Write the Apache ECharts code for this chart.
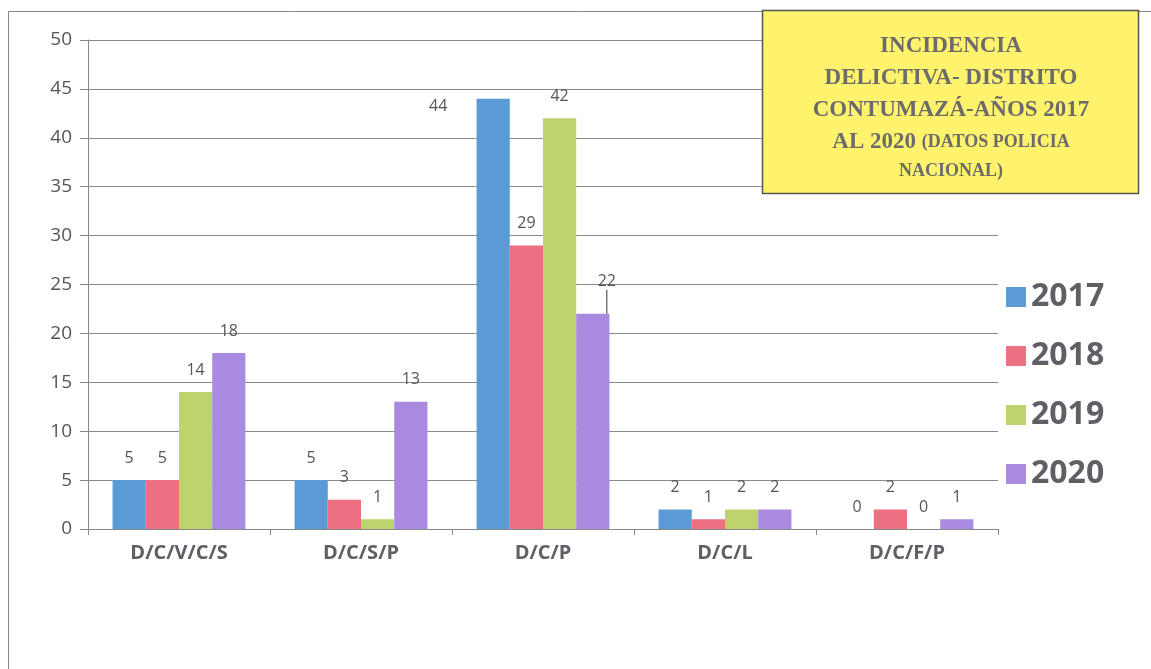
<!DOCTYPE html>
<html>
<head>
  <meta charset="utf-8">
  <title>Incidencia delictiva</title>
  <script src="https://cdn.jsdelivr.net/npm/echarts@6/dist/echarts.min.js"></script>
  <style>
    html, body { margin: 0; padding: 0; background: #fff; }
  </style>
</head>
<body>
  <div id="main" style="width:1151px;height:669px;"></div>
  <script type="text/javascript">
    // data
    var categories = ['D/C/V/C/S', 'D/C/S/P', 'D/C/P', 'D/C/L', 'D/C/F/P'];
    var years = ['2017', '2018', '2019', '2020'];
    var v2017 = [5, 5, 44, 2, 0];
    var v2018 = [5, 3, 29, 1, 2];
    var v2019 = [14, 1, 42, 2, 0];
    var v2020 = [18, 13, 22, 2, 1];
    var yTicks = [0, 5, 10, 15, 20, 25, 30, 35, 40, 45, 50];

    var colors = ['#5b9bd5', '#ec6f82', '#bdd46c', '#a98ae0'];
    var allValues = [v2017, v2018, v2019, v2020];

    var myChart = echarts.init(document.getElementById('main'));

    function makeSeries(i) {
      var data = allValues[i].map(function (v, j) {
        // only the 2020 label over D/C/P has a leader line
        if (i === 3 && j === 2) {
          return { value: v, labelLine: { show: true } };
        }
        return v;
      });
      return {
        name: years[i],
        type: 'bar',
        barGap: 0,
        barCategoryGap: '27%',
        itemStyle: { color: colors[i] },
        label: {
          show: true,
          position: 'top',
          distance: 14,
          color: '#555',
          fontFamily: 'Open Sans',
          fontSize: 16
        },
        labelLine: { show: false, lineStyle: { color: '#333', width: 1 } },
        labelLayout: function (p) {
          // a couple of labels were moved by hand in the original
          if (i === 0 && p.dataIndex === 2) return { dx: -55, dy: 30 };
          if (i === 3 && p.dataIndex === 2) return { dx: 14, dy: -10 };
          return {};
        },
        data: data
      };
    }

    var titleStyle = {
      a: { fontFamily: 'Liberation Serif', fontWeight: 'bold', fontSize: 23, fill: '#6b6b6b', lineHeight: 32 },
      b: { fontFamily: 'Liberation Serif', fontWeight: 'bold', fontSize: 18, fill: '#6b6b6b', lineHeight: 32 },
      c: { fontFamily: 'Liberation Serif', fontWeight: 'bold', fontSize: 18, fill: '#6b6b6b', lineHeight: 26 }
    };

    var option = {
      animation: false,
      backgroundColor: '#fff',
      legend: {
        orient: 'vertical',
        left: 1001,
        top: 276,
        itemWidth: 20,
        itemHeight: 20,
        itemGap: 27,
        icon: 'rect',
        data: years,
        textStyle: {
          fontFamily: 'Open Sans',
          fontWeight: 'bold',
          fontSize: 32,
          lineHeight: 29,
          color: '#5f5f66'
        }
      },
      grid: {
        left: 88,
        right: 153,
        top: 40,
        bottom: 140
      },
      xAxis: {
        type: 'category',
        data: categories,
        axisLine: { lineStyle: { color: '#888', width: 1 } },
        axisTick: { show: true, length: 6, lineStyle: { color: '#888' } },
        axisLabel: {
          margin: 14,
          fontFamily: 'Open Sans',
          fontWeight: 'bold',
          fontSize: 20,
          color: '#5f5f66'
        }
      },
      yAxis: {
        type: 'value',
        min: yTicks[0],
        max: yTicks[yTicks.length - 1],
        interval: 5,
        axisLine: { show: true, lineStyle: { color: '#888' } },
        axisTick: { show: true, length: 8, lineStyle: { color: '#888' } },
        splitLine: { lineStyle: { color: '#8a8a8a', width: 1 } },
        axisLabel: {
          margin: 16,
          fontFamily: 'Open Sans',
          fontSize: 19,
          color: '#555'
        }
      },
      graphic: [
        {
          type: 'rect',
          z: -10,
          shape: { x: 8.5, y: 11.5, width: 1200, height: 700 },
          style: { fill: 'none', stroke: '#888', lineWidth: 1 }
        },
        {
          type: 'rect',
          z: 10,
          shape: { x: 762.5, y: 10.5, width: 376, height: 183 },
          style: { fill: '#fff26c', stroke: '#555', lineWidth: 1.5 }
        },
        {
          type: 'text',
          z: 11,
          x: 951,
          y: 30,
          style: {
            text: '{a|INCIDENCIA}\n{a|DELICTIVA- DISTRITO}\n{a|CONTUMAZÁ-AÑOS 2017}\n{a|AL 2020 }{b|(DATOS POLICIA}\n{c|NACIONAL)}',
            align: 'center',
            verticalAlign: 'top',
            rich: titleStyle
          }
        }
      ],
      series: [makeSeries(0), makeSeries(1), makeSeries(2), makeSeries(3)]
    };

    myChart.setOption(option);
  </script>
</body>
</html>
